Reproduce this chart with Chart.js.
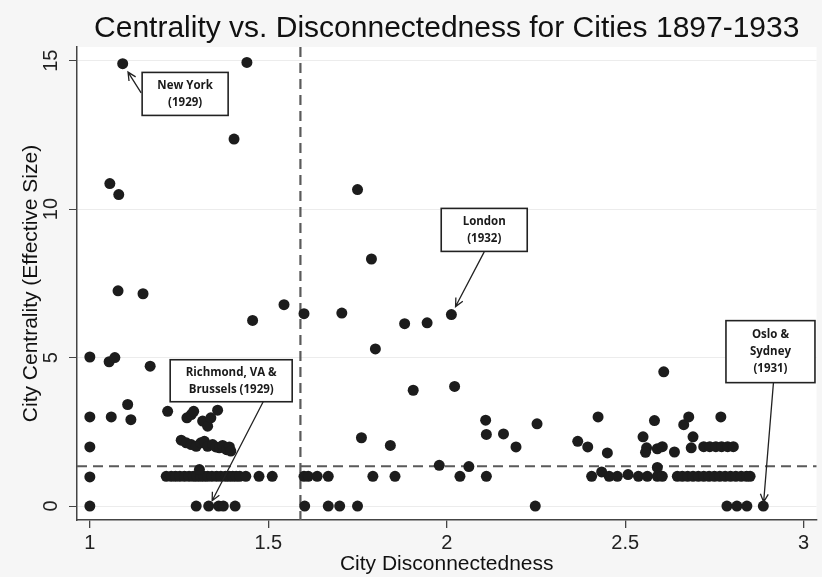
<!DOCTYPE html>
<html>
<head>
<meta charset="utf-8">
<script src="https://cdn.jsdelivr.net/npm/chart.js@4.4.1/dist/chart.umd.min.js"></script>
<style>
  html, body { margin: 0; padding: 0; background: #f6f6f6; }
</style>
</head>
<body>
<canvas id="chart" width="822" height="577"></canvas>
<script>
// city disconnectedness (x) and centrality / effective size (y), same order
const disconnect = [
  1.00, 1.00, 1.00, 1.00, 1.00,
  1.092, 1.44, 1.404, 1.056, 1.081, 1.079, 1.149,
  1.544, 1.60, 1.456, 1.054, 1.07, 1.169, 1.106, 1.06, 1.115,
  1.218, 1.272, 1.284, 1.291, 1.316, 1.33, 1.339, 1.358,
  1.256, 1.270, 1.284, 1.298, 1.311, 1.321, 1.330, 1.344, 1.353, 1.363, 1.372, 1.383, 1.391, 1.395,
  1.214, 1.228, 1.24, 1.252, 1.265, 1.278, 1.29, 1.30, 1.31, 1.32, 1.33, 1.342, 1.355, 1.367,
  1.38, 1.39, 1.40, 1.41, 1.42, 1.437, 1.474, 1.511, 1.307,
  1.298, 1.333, 1.361, 1.374, 1.407,
  1.750, 1.789, 1.706, 1.882, 1.945, 2.013, 1.80, 1.906, 2.022, 1.761, 1.842, 1.979, 2.062,
  1.60, 1.612, 1.637, 1.668, 1.793, 1.855, 2.037,
  1.602, 1.668, 1.70, 1.75, 2.248,
  2.109, 2.111, 2.159, 2.194, 2.253, 2.111,
  2.367, 2.395, 2.424, 2.45, 2.55, 2.56, 2.557, 2.59, 2.604, 2.582, 2.608, 2.638, 2.664, 2.678,
  2.69, 2.685, 2.768,
  2.72, 2.737, 2.754, 2.77, 2.787, 2.803,
  2.406, 2.434, 2.455, 2.478, 2.508, 2.537, 2.562, 2.59, 2.59, 2.604,
  2.646, 2.66, 2.675, 2.69, 2.705, 2.72, 2.735, 2.75, 2.765, 2.78, 2.795, 2.81, 2.825, 2.84, 2.85,
  2.785, 2.813, 2.841, 2.887
];
const centrality = [
  5.02, 3.00, 1.99, 0.98, 0,
  14.9, 14.94, 12.36, 10.86, 10.49, 7.25, 7.15,
  6.78, 6.48, 6.25, 4.86, 5.0, 4.71, 3.42, 3.0, 2.91,
  3.19, 2.97, 3.08, 3.19, 2.86, 2.69, 2.97, 3.23,
  2.22, 2.13, 2.07, 2.01, 2.13, 2.18, 2.01, 2.07, 1.99, 1.96, 2.04, 1.90, 1.99, 1.85,
  1, 1, 1, 1, 1, 1, 1, 1, 1, 1, 1, 1, 1, 1,
  1, 1, 1, 1, 1, 1, 1, 1, 1.23,
  0, 0, 0, 0, 0,
  10.66, 8.32, 6.5, 6.14, 6.17, 6.45, 5.29, 3.9, 4.03, 2.30, 2.04, 1.37, 1.33,
  1, 1, 1, 1, 1, 1, 1,
  0, 0, 0, 0, 0,
  2.89, 2.41, 2.43, 1.99, 2.77, 1.0,
  2.18, 1.99, 3.0, 1.79, 2.33, 1.96, 1.81, 1.93, 2.0, 2.88, 4.52, 1.82, 2.74, 3.0,
  2.33, 1.96, 3.0,
  2, 2, 2, 2, 2, 2,
  1, 1.15, 1, 1, 1.06, 1, 1, 1.3, 1, 1,
  1, 1, 1, 1, 1, 1, 1, 1, 1, 1, 1, 1, 1, 1, 1,
  0, 0, 0, 0
];

const xTicks = [1, 1.5, 2, 2.5, 3];
const yTicks = [0, 5, 10, 15];
const meanDisconnect = 1.59;
const meanCentrality = 1.34;

// labelled cities: text, the point the arrow targets, box centre (data units)
const callouts = [
  { lines: ["New York", "(1929)"], point: [1.092, 14.9], box: [1.267, 13.88], w: 86, h: 43, from: [-44, -1], gap: 10 },
  { lines: ["London", "(1932)"], point: [2.013, 6.45], box: [2.105, 9.3], w: 86, h: 43, from: [0, 22], gap: 9 },
  { lines: ["Richmond, VA &", "Brussels (1929)"], point: [1.335, 0], box: [1.396, 4.22], w: 122, h: 42, from: [32, 21], gap: 6 },
  { lines: ["Oslo &", "Sydney", "(1931)"], point: [2.887, 0], box: [2.907, 5.2], w: 89, h: 62, from: [3, 31], gap: 4 }
];

const points = disconnect.map((x, i) => ({ x: x, y: centrality[i] }));
const FONT = "'Liberation Sans', Arial, sans-serif";

const background = {
  id: "background",
  beforeDraw(chart) {
    const { ctx, chartArea: a } = chart;
    ctx.save();
    ctx.fillStyle = "#f6f6f6";
    ctx.fillRect(0, 0, chart.width, chart.height);
    ctx.fillStyle = "#ffffff";
    ctx.fillRect(a.left, a.top, a.right - a.left, a.bottom - a.top);
    ctx.restore();
  }
};

const meanLines = {
  id: "meanLines",
  beforeDatasetsDraw(chart) {
    const { ctx, chartArea: a, scales } = chart;
    const px = scales.x.getPixelForValue(meanDisconnect);
    const py = scales.y.getPixelForValue(meanCentrality);
    ctx.save();
    ctx.strokeStyle = "#5a5a5a";
    ctx.lineWidth = 2.2;
    ctx.setLineDash([10, 6]);
    ctx.beginPath();
    ctx.moveTo(px, a.top);
    ctx.lineTo(px, a.bottom);
    ctx.moveTo(a.left, py);
    ctx.lineTo(a.right, py);
    ctx.stroke();
    ctx.restore();
  }
};

const labels = {
  id: "labels",
  afterDatasetsDraw(chart) {
    const { ctx, scales } = chart;
    ctx.save();
    callouts.forEach(c => {
      const cx = scales.x.getPixelForValue(c.box[0]);
      const cy = scales.y.getPixelForValue(c.box[1]);
      const tx = scales.x.getPixelForValue(c.point[0]);
      const ty = scales.y.getPixelForValue(c.point[1]);
      // arrow
      const sx = cx + c.from[0], sy = cy + c.from[1];
      const dx = sx - tx, dy = sy - ty;
      const len = Math.hypot(dx, dy);
      const ex = tx + dx / len * c.gap, ey = ty + dy / len * c.gap;
      const ang = Math.atan2(sy - ey, sx - ex);
      ctx.strokeStyle = "#222";
      ctx.lineWidth = 1.3;
      ctx.beginPath();
      ctx.moveTo(sx, sy);
      ctx.lineTo(ex, ey);
      ctx.moveTo(ex + 9 * Math.cos(ang + 0.45), ey + 9 * Math.sin(ang + 0.45));
      ctx.lineTo(ex, ey);
      ctx.lineTo(ex + 9 * Math.cos(ang - 0.45), ey + 9 * Math.sin(ang - 0.45));
      ctx.stroke();
      // box
      ctx.fillStyle = "#ffffff";
      ctx.fillRect(cx - c.w / 2, cy - c.h / 2, c.w, c.h);
      ctx.lineWidth = 1.6;
      ctx.strokeRect(cx - c.w / 2, cy - c.h / 2, c.w, c.h);
      ctx.fillStyle = "#1a1a1a";
      ctx.font = "bold 11.5px 'Open Sans', sans-serif";
      ctx.textAlign = "center";
      ctx.textBaseline = "middle";
      const lh = 17;
      c.lines.forEach((t, i) => {
        ctx.fillText(t, cx, cy + (i - (c.lines.length - 1) / 2) * lh);
      });
    });
    ctx.restore();
  }
};

new Chart(document.getElementById("chart"), {
  type: "scatter",
  data: {
    datasets: [{
      data: points,
      pointRadius: 5.5,
      pointHoverRadius: 5.5,
      pointBackgroundColor: "#1c1c1c",
      pointBorderWidth: 0
    }]
  },
  options: {
    responsive: false,
    animation: false,
    layout: { padding: { right: 2, left: 0, top: 0, bottom: 0 } },
    plugins: {
      legend: { display: false },
      tooltip: { enabled: false },
      title: {
        display: true,
        text: "Centrality vs. Disconnectedness for Cities 1897-1933",
        fullSize: false,
        color: "#111",
        font: { family: FONT, size: 30, weight: "normal" },
        padding: { top: 11, bottom: 0 }
      }
    },
    scales: {
      x: {
        type: "linear",
        min: 0.964,
        max: 3.036,
        afterBuildTicks: s => { s.ticks = xTicks.map(v => ({ value: v })); },
        afterFit: s => { s.height = 57; },
        ticks: {
          color: "#222",
          padding: 3,
          font: { family: FONT, size: 20 },
          callback: v => String(v)
        },
        grid: { drawOnChartArea: false, drawTicks: true, tickLength: 8, tickColor: "#444", lineWidth: 1.3 },
        border: { color: "#444", width: 1.5 },
        title: {
          display: true,
          text: "City Disconnectedness",
          color: "#111",
          font: { family: FONT, size: 21 },
          padding: { top: 0, bottom: 0 }
        }
      },
      y: {
        type: "linear",
        min: -0.47,
        max: 15.46,
        afterBuildTicks: s => { s.ticks = yTicks.map(v => ({ value: v })); },
        afterFit: s => { s.width = 77; },
        ticks: {
          color: "#222",
          padding: 6,
          minRotation: 90,
          maxRotation: 90,
          crossAlign: "center",
          font: { family: FONT, size: 20 },
          callback: v => String(v)
        },
        grid: { color: "#ececec", lineWidth: 1, drawTicks: true, tickLength: 8, tickColor: "#444" },
        border: { color: "#444", width: 1.5 },
        title: {
          display: true,
          text: "City Centrality (Effective Size)",
          color: "#111",
          font: { family: FONT, size: 21 },
          padding: { top: 19, bottom: 0 }
        }
      }
    }
  },
  plugins: [background, meanLines, labels]
});
</script>
</body>
</html>
